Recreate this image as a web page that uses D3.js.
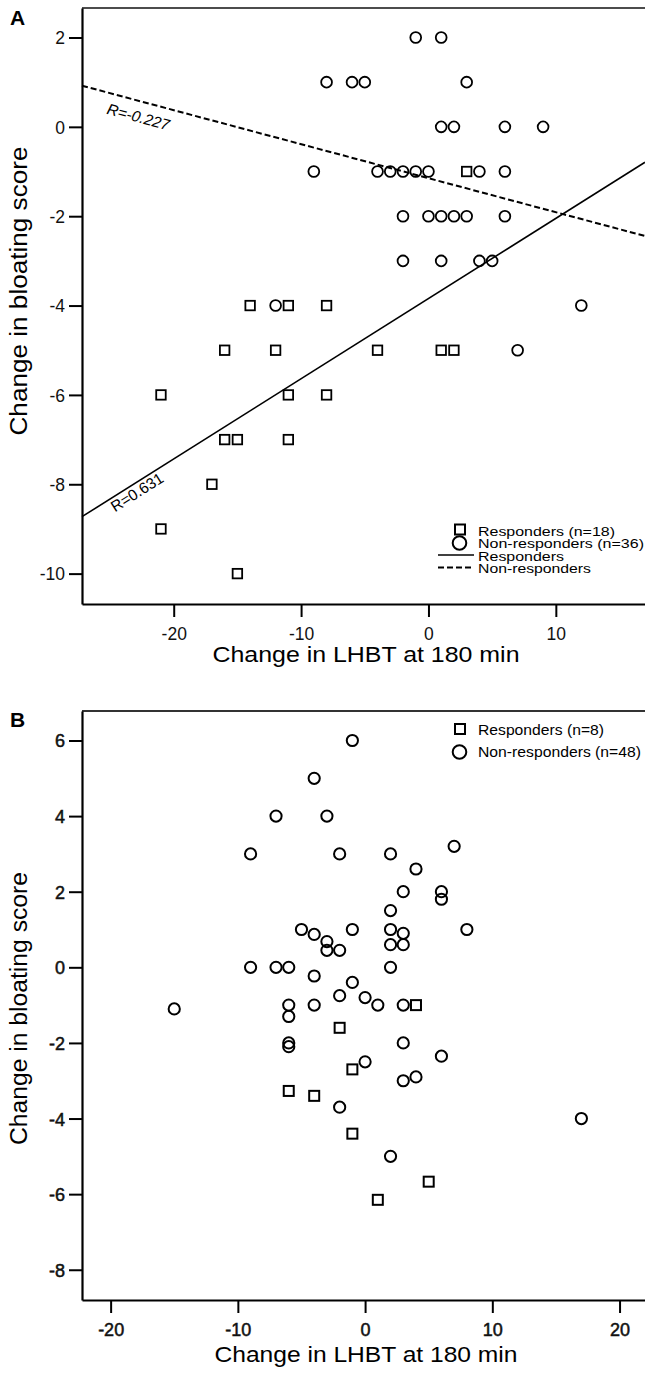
<!DOCTYPE html>
<html>
<head>
<meta charset="utf-8">
<title>Bloating vs LHBT</title>
<style>
  body { margin: 0; background: #fff; }
  svg { display: block; font-family: "Liberation Sans", Arial, sans-serif; }
</style>
</head>
<body>
<svg width="645" height="1376"></svg>
<script src="https://cdn.jsdelivr.net/npm/d3@7/dist/d3.min.js"></script>
<script>
// ---- panel A data: [change in LHBT, change in bloating score]
const aResponders = [[-21,-6],[-21,-9],[-16,-5],[-12,-5],[-11,-6],[-16,-7],[-15,-7],[-11,-7],[-17,-8],
  [-15,-10],[-14,-4],[-11,-4],[-8,-4],[-8,-6],[-4,-5],[1,-5],[2,-5],[3,-1]]
const aNonResponders = [[-12,-4],[7,-5],[12,-4],[-1,2],[1,2],[-8,1],[-6,1],[-5,1],[3,1],
  [1,0],[2,0],[6,0],[9,0],[-9,-1],[-4,-1],[-3,-1],[-2,-1],[-1,-1],[0,-1],[4,-1],[6,-1],
  [-2,-2],[0,-2],[1,-2],[2,-2],[3,-2],[6,-2],[-2,-3],[1,-3],[4,-3],[5,-3]]
const aXTicks = [-20, -10, 0, 10]
const aYTicks = [2, 0, -2, -4, -6, -8, -10]
const aLegend = ["Responders (n=18)", "Non-responders (n=36)", "Responders", "Non-responders"]
const aRLabels = ["R=0.631", "R=-0.227"]

// ---- panel B data
const bResponders = [[-2,-1.6],[-1,-2.7],[-6,-3.27],[-4,-3.4],[-1,-4.4],[1,-6.15],[4,-1],[5,-5.67]]
const bNonResponders = [[-1,6],[-4,5],[-7,4],[-3,4],[-9,3],[-2,3],[2,3],[3,2],[2,1.5],[-5,1],
  [-4,0.87],[-1,1],[-3,0.68],[-3,0.45],[-2,0.45],[2,1],[3,0.9],[2,0.6],[3,0.6],[-9,0],[-7,0],
  [-6,0],[2,0],[-15,-1.1],[-4,-0.23],[-1,-0.4],[-2,-0.75],[0,-0.8],[1,-1],[3,-1],[-6,-1],
  [-6,-1.3],[-4,-1],[-6,-2],[-6,-2.1],[3,-2],[0,-2.5],[3,-3],[-2,-3.7],[2,-5],[7,3.2],
  [4,2.6],[6,2],[6,1.8],[8,1],[6,-2.35],[4,-2.9],[17,-4]]
const bXTicks = [-20, -10, 0, 10, 20]
const bYTicks = [6, 4, 2, 0, -2, -4, -6, -8]
const bLegend = ["Responders (n=8)", "Non-responders (n=48)"]

const xTitle = "Change in LHBT at 180 min"
const yTitle = "Change in bloating score"

const svg = d3.select("svg")

// least squares line
function fit(pts) {
  let mx = d3.mean(pts, d => d[0]), my = d3.mean(pts, d => d[1])
  let sxy = d3.sum(pts, d => (d[0]-mx)*(d[1]-my))
  let sxx = d3.sum(pts, d => (d[0]-mx)**2)
  let b = sxy / sxx
  return v => my + b*(v - mx)
}

function drawPanel(o) {
  let g = svg.append("g")
  let x = d3.scaleLinear().domain(o.xDom).range([82, 645])
  let y = d3.scaleLinear().domain(o.yDom).range(o.yRange)

  // top border
  g.append("line").attr("x1", 82).attr("x2", 645)
    .attr("y1", o.yRange[1]).attr("y2", o.yRange[1])
    .attr("stroke", o.borderColor).attr("stroke-width", o.borderWidth)

  // axes (plain hyphen minus, like the original)
  let fmt = d => String(d)
  let ya = g.append("g").attr("transform", "translate(82,0)")
    .call(d3.axisLeft(y).tickValues(o.yTicks).tickFormat(fmt).tickSize(13).tickSizeOuter(0).tickPadding(4))
  let xa = g.append("g").attr("transform", `translate(0,${o.yRange[0]})`)
    .call(d3.axisBottom(x).tickValues(o.xTicks).tickFormat(fmt).tickSize(13).tickSizeOuter(0).tickPadding(o.xPad))
  ;[ya, xa].forEach(a => {
    a.attr("font-family", null).attr("font-size", o.tickFont)
    a.select(".domain").attr("stroke", "#000").attr("stroke-width", 2.2)
    a.selectAll(".tick line").attr("stroke", "#000").attr("stroke-width", 2)
    a.selectAll(".tick text").attr("fill", "#111")
      .attr("stroke", o.tickBold ? "#111" : null).attr("stroke-width", o.tickBold ? 0.5 : null)
  })
  ya.selectAll(".tick text").attr("dy", "0.36em")

  // fit lines
  if (o.fits) {
    o.fits.forEach(f => {
      let fn = fit(f.pts)
      let x0 = o.xDom[0], x1 = o.xDom[1]
      g.append("line")
        .attr("x1", x(x0)).attr("y1", y(fn(x0)))
        .attr("x2", x(x1)).attr("y2", y(fn(x1)))
        .attr("stroke", "#000").attr("stroke-width", f.width)
        .attr("stroke-dasharray", f.dash)
      let ang = Math.atan2(y(fn(x1)) - y(fn(x0)), x(x1) - x(x0)) * 180 / Math.PI
      g.append("text")
        .attr("transform", `translate(${x(f.at)},${y(fn(f.at))}) rotate(${ang})`)
        .attr("y", f.off)
        .attr("font-size", 15.5).attr("font-style", f.italic ? "italic" : null)
        .text(f.label)
    })
  }

  // points
  g.append("g").selectAll("circle").data(o.non).enter().append("circle")
    .attr("cx", d => x(d[0])).attr("cy", d => y(d[1])).attr("r", o.r)
    .attr("fill", "none").attr("stroke", "#000").attr("stroke-width", o.sw)
  g.append("g").selectAll("rect").data(o.resp).enter().append("rect")
    .attr("x", d => x(d[0]) - o.sq/2).attr("y", d => y(d[1]) - o.sq/2)
    .attr("width", o.sq).attr("height", o.sq)
    .attr("fill", "none").attr("stroke", "#000").attr("stroke-width", o.sw)

  // titles
  g.append("text").attr("x", 366).attr("y", o.xTitleY)
    .attr("text-anchor", "middle").attr("font-size", 22)
    .attr("textLength", o.xTitleLen).attr("lengthAdjust", "spacingAndGlyphs")
    .text(xTitle)
  let ym = (o.yRange[0] + o.yRange[1]) / 2 - o.yTitleShift
  g.append("text").attr("transform", `translate(27,${ym}) rotate(-90)`)
    .attr("text-anchor", "middle").attr("font-size", 23)
    .attr("textLength", o.yTitleLen).attr("lengthAdjust", "spacingAndGlyphs")
    .text(yTitle)
  g.append("text").attr("x", 10).attr("y", o.letterY)
    .attr("font-size", 21).attr("font-weight", "bold").text(o.letter)

  // legend
  let lg = g.append("g")
  o.legend.forEach(it => {
    lg.append("text").attr("x", 478).attr("y", it.y)
      .attr("font-size", o.legFont).text(it.text)
      .attr("textLength", it.len).attr("lengthAdjust", "spacingAndGlyphs")
    if (it.kind == "sq")
      lg.append("rect").attr("x", 460 - 5).attr("y", it.y - 11).attr("width", 10).attr("height", 10)
        .attr("fill", "none").attr("stroke", "#000").attr("stroke-width", 2)
    if (it.kind == "ci")
      lg.append("circle").attr("cx", 459.5).attr("cy", it.y - 5).attr("r", 6.8)
        .attr("fill", "none").attr("stroke", "#000").attr("stroke-width", 2)
    if (it.kind == "solid" || it.kind == "dash")
      lg.append("line").attr("x1", 438).attr("x2", 474).attr("y1", it.y - 5.5).attr("y2", it.y - 5.5)
        .attr("stroke", "#000").attr("stroke-width", it.kind == "dash" ? 1.8 : 1.6)
        .attr("stroke-dasharray", it.kind == "dash" ? "6,3" : null)
  })
}

drawPanel({
  letter: "A", letterY: 25,
  xDom: [-27.2, 17], yDom: [-10.68, 2.66], yRange: [604, 8],
  xTicks: aXTicks, yTicks: aYTicks, tickFont: 17.5, xPad: 11, tickBold: false,
  borderColor: "#111", borderWidth: 1.4,
  resp: aResponders, non: aNonResponders, r: 5.4, sq: 9.5, sw: 1.8,
  fits: [
    {pts: aResponders, width: 1.6, dash: null, label: aRLabels[0], at: -25.2, off: 14, italic: false},
    {pts: aNonResponders, width: 2, dash: "6,3", label: aRLabels[1], at: -24.9, off: 21, italic: true}
  ],
  xTitleY: 662, xTitleLen: 307, yTitleLen: 289, yTitleShift: 15,
  legFont: 13,
  legend: [
    {text: aLegend[0], kind: "sq", y: 535.5, len: 137},
    {text: aLegend[1], kind: "ci", y: 548, len: 166},
    {text: aLegend[2], kind: "solid", y: 560.5, len: 86},
    {text: aLegend[3], kind: "dash", y: 573, len: 113}
  ]
})

drawPanel({
  letter: "B", letterY: 727,
  xDom: [-22.25, 22], yDom: [-8.8, 6.78], yRange: [1300, 711],
  xTicks: bXTicks, yTicks: bYTicks, tickFont: 18, xPad: 10, tickBold: true,
  borderColor: "#333", borderWidth: 2,
  resp: bResponders, non: bNonResponders, r: 5.6, sq: 10, sw: 2,
  fits: null,
  xTitleY: 1362, xTitleLen: 303, yTitleLen: 273, yTitleShift: -3,
  legFont: 15.5,
  legend: [
    {text: bLegend[0], kind: "sq", y: 735, len: 126},
    {text: bLegend[1], kind: "ci", y: 757, len: 163}
  ]
})
</script>
</body>
</html>
